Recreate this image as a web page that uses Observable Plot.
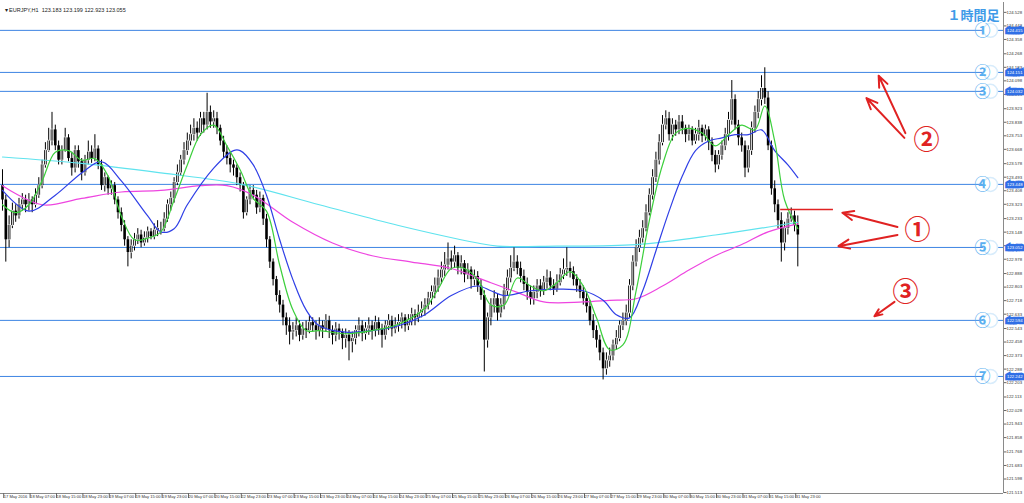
<!DOCTYPE html>
<html><head><meta charset="utf-8">
<script src="https://cdn.jsdelivr.net/npm/d3@7"></script>
<script src="https://cdn.jsdelivr.net/npm/@observablehq/plot@0.6"></script>
<style>html,body{margin:0;padding:0;background:#fff;overflow:hidden}</style>
</head><body><div id="chart"></div>
<script>
const symbolLine = "▾ EURJPY,H1  123.183 123.199 122.923 123.055";
const timeframeLabel = "１時間足";
const firstOpen = 123.44;
const close = [
123.35,123.10,123.19,123.28,123.25,123.32,123.35,123.32,
123.35,123.32,123.38,123.44,123.57,123.66,123.72,123.79,
123.69,123.60,123.66,123.74,123.61,123.55,123.66,123.59,
123.52,123.60,123.65,123.61,123.67,123.57,123.44,123.49,
123.42,123.44,123.35,123.27,123.19,123.10,123.02,123.06,
123.10,123.13,123.08,123.11,123.15,123.12,123.16,123.17,
123.17,123.23,123.32,123.36,123.46,123.52,123.60,123.66,
123.72,123.76,123.80,123.77,123.86,123.82,123.90,123.84,
123.86,123.80,123.72,123.65,123.61,123.57,123.55,123.49,
123.44,123.27,123.35,123.41,123.38,123.30,123.36,123.23,
123.10,122.96,122.85,122.75,122.69,122.61,122.56,122.52,
122.53,122.56,122.50,122.54,122.53,122.58,122.56,122.53,
122.56,122.54,122.59,122.53,122.50,122.54,122.52,122.48,
122.50,122.46,122.48,122.53,122.56,122.51,122.54,122.56,
122.53,122.58,122.54,122.50,122.56,122.59,122.54,122.56,
122.58,122.61,122.56,122.59,122.63,122.61,122.64,122.66,
122.69,122.73,122.77,122.81,122.86,122.91,122.94,122.98,
122.96,123.00,122.92,122.95,122.88,122.91,122.85,122.87,
122.81,122.75,122.47,122.61,122.69,122.73,122.64,122.69,
122.78,122.86,122.92,122.96,122.92,122.87,122.82,122.77,
122.73,122.77,122.81,122.78,122.83,122.86,122.81,122.79,
122.83,122.88,122.91,122.92,122.90,122.85,122.81,122.77,
122.73,122.68,122.59,122.53,122.47,122.39,122.29,122.34,
122.37,122.44,122.48,122.56,122.59,122.64,122.81,122.96,
123.05,123.11,123.17,123.27,123.38,123.49,123.60,123.71,
123.82,123.86,123.76,123.82,123.79,123.84,123.80,123.76,
123.79,123.72,123.76,123.80,123.75,123.79,123.71,123.63,
123.57,123.63,123.69,123.76,123.85,123.98,123.82,123.74,
123.69,123.55,123.66,123.80,123.90,123.98,124.05,123.99,
123.69,123.42,123.32,123.22,123.08,123.17,123.23,123.25,123.19,123.13];
const high = [
123.54,123.38,123.25,123.33,123.32,123.36,123.39,123.38,
123.39,123.37,123.42,123.49,123.60,123.71,123.80,123.90,
123.82,123.72,123.69,123.80,123.76,123.65,123.69,123.69,
123.61,123.63,123.72,123.69,123.76,123.69,123.60,123.52,
123.50,123.47,123.46,123.37,123.30,123.22,123.12,123.10,
123.14,123.17,123.16,123.15,123.18,123.17,123.20,123.22,
123.21,123.27,123.35,123.40,123.49,123.57,123.63,123.71,
123.77,123.82,123.86,123.84,123.90,123.90,124.02,123.94,
123.91,123.90,123.82,123.75,123.69,123.65,123.60,123.57,
123.52,123.46,123.37,123.44,123.44,123.41,123.40,123.38,
123.26,123.12,122.98,122.87,122.78,122.72,122.64,122.61,
122.58,122.61,122.59,122.58,122.59,122.62,122.61,122.59,
122.61,122.59,122.63,122.62,122.56,122.58,122.57,122.54,
122.54,122.53,122.52,122.56,122.61,122.59,122.58,122.61,
122.59,122.62,122.61,122.57,122.59,122.63,122.62,122.61,
122.63,122.64,122.63,122.63,122.67,122.66,122.69,122.71,
122.73,122.77,122.81,122.86,122.91,122.96,123.02,123.08,
123.03,123.06,123.02,123.00,122.97,122.95,122.93,122.91,
122.90,122.85,122.78,122.64,122.73,122.78,122.76,122.73,
122.82,122.91,123.00,123.05,123.00,122.96,122.91,122.86,
122.81,122.81,122.85,122.85,122.87,122.91,122.90,122.85,
122.88,122.92,122.98,123.05,122.96,122.93,122.88,122.85,
122.81,122.77,122.72,122.63,122.56,122.50,122.42,122.39,
122.42,122.47,122.53,122.59,122.64,122.69,122.85,123.00,
123.10,123.16,123.22,123.32,123.42,123.54,123.65,123.76,
123.88,123.91,123.90,123.86,123.85,123.88,123.88,123.82,
123.82,123.81,123.80,123.85,123.82,123.82,123.81,123.74,
123.66,123.66,123.72,123.80,123.90,124.10,124.01,123.85,
123.77,123.72,123.69,123.84,123.94,124.03,124.13,124.18,
124.03,123.72,123.47,123.35,123.27,123.21,123.27,123.30,123.28,123.25];
const low = [
123.28,122.96,123.05,123.17,123.21,123.23,123.28,123.27,
123.28,123.27,123.30,123.36,123.42,123.55,123.65,123.69,
123.66,123.57,123.57,123.65,123.59,123.50,123.52,123.55,
123.47,123.50,123.57,123.58,123.59,123.54,123.41,123.40,
123.38,123.38,123.32,123.23,123.15,123.06,122.93,122.98,
123.03,123.07,123.05,123.06,123.08,123.10,123.10,123.12,
123.13,123.15,123.21,123.28,123.33,123.44,123.50,123.57,
123.63,123.69,123.72,123.72,123.75,123.77,123.79,123.80,
123.80,123.76,123.69,123.61,123.57,123.52,123.50,123.44,
123.40,123.23,123.25,123.32,123.35,123.26,123.27,123.19,
123.05,122.92,122.81,122.71,122.64,122.56,122.50,122.44,
122.47,122.49,122.46,122.47,122.48,122.51,122.52,122.47,
122.49,122.48,122.52,122.48,122.44,122.46,122.47,122.41,
122.42,122.34,122.39,122.44,122.49,122.46,122.47,122.50,
122.47,122.49,122.50,122.42,122.47,122.53,122.49,122.51,
122.52,122.54,122.52,122.53,122.56,122.56,122.58,122.61,
122.62,122.66,122.69,122.73,122.77,122.82,122.87,122.91,
122.91,122.92,122.88,122.88,122.83,122.85,122.79,122.81,
122.77,122.72,122.27,122.42,122.56,122.64,122.59,122.61,
122.66,122.75,122.83,122.90,122.88,122.83,122.78,122.72,
122.69,122.69,122.73,122.74,122.75,122.79,122.78,122.75,
122.77,122.81,122.85,122.87,122.86,122.81,122.77,122.73,
122.69,122.64,122.56,122.48,122.42,122.34,122.22,122.25,
122.30,122.34,122.41,122.46,122.53,122.56,122.61,122.78,
122.93,123.02,123.08,123.15,123.25,123.35,123.46,123.57,
123.69,123.79,123.72,123.72,123.75,123.76,123.76,123.71,
123.72,123.69,123.70,123.72,123.71,123.72,123.66,123.59,
123.52,123.54,123.60,123.66,123.72,123.82,123.79,123.69,
123.65,123.49,123.52,123.63,123.77,123.86,123.94,123.95,
123.66,123.38,123.27,123.17,122.96,123.03,123.13,123.21,123.15,122.93];

// moving averages: [bar index, value]
const maGreen = [[0,123.32],[4,123.27],[8,123.32],[12,123.47],[16,123.65],[20,123.66],[24,123.60],[28,123.61],[32,123.50],[36,123.25],[40,123.10],[44,123.11],[48,123.15],[52,123.35],[56,123.57],[60,123.76],[64,123.82],[68,123.69],[72,123.54],[76,123.36],[80,123.28],[84,122.94],[88,122.66],[92,122.53],[96,122.53],[104,122.51],[112,122.53],[120,122.57],[128,122.67],[132,122.79],[136,122.92],[140,122.92],[144,122.85],[148,122.69],[152,122.69],[156,122.86],[160,122.81],[164,122.78],[168,122.83],[172,122.90],[176,122.81],[180,122.61],[184,122.41],[188,122.44],[192,122.78],[196,123.22],[200,123.57],[204,123.77],[208,123.80],[212,123.77],[216,123.69],[220,123.76],[224,123.82],[228,123.79],[231,123.94],[234,123.72],[237,123.35],[241,123.17]];
const maBlue = [[0,123.41],[8,123.28],[16,123.38],[24,123.52],[30,123.59],[36,123.47],[44,123.25],[48,123.15],[52,123.17],[56,123.32],[64,123.55],[70,123.66],[72,123.66],[76,123.57],[80,123.38],[84,123.10],[88,122.85],[92,122.66],[96,122.56],[104,122.52],[112,122.53],[120,122.56],[128,122.63],[136,122.75],[144,122.81],[148,122.78],[152,122.75],[160,122.78],[168,122.79],[176,122.78],[182,122.72],[186,122.63],[190,122.61],[194,122.78],[198,123.03],[202,123.28],[206,123.50],[210,123.66],[214,123.72],[218,123.74],[222,123.76],[226,123.76],[230,123.79],[234,123.66],[238,123.57],[241,123.49]];
const maMagenta = [[0,123.44],[12,123.32],[24,123.36],[36,123.40],[48,123.41],[60,123.44],[68,123.44],[76,123.38],[88,123.21],[100,123.08],[112,123.00],[124,122.96],[136,122.92],[148,122.83],[156,122.77],[164,122.71],[176,122.71],[184,122.72],[192,122.73],[200,122.81],[208,122.91],[216,123.00],[224,123.07],[232,123.15],[241,123.20]];
const maCyan = [[0,123.62],[24,123.58],[48,123.52],[72,123.45],[96,123.32],[120,123.19],[144,123.08],[150,123.06],[168,123.06],[192,123.07],[216,123.13],[241,123.21]];

const timeLabels = ["17 May 2016","18 May 07:00","18 May 15:00","18 May 23:00","19 May 07:00","19 May 15:00","19 May 23:00","20 May 07:00","20 May 15:00","22 May 23:00","23 May 07:00","23 May 15:00","23 May 23:00","24 May 07:00","24 May 15:00","24 May 23:00","25 May 07:00","25 May 15:00","25 May 23:00","26 May 07:00","26 May 15:00","26 May 23:00","27 May 07:00","27 May 15:00","29 May 23:00","30 May 07:00","30 May 15:00","30 May 23:00","31 May 07:00","31 May 15:00","31 May 23:00"];
const barsPerLabel = 8;
const priceTicks = [124.528,124.443,124.358,124.268,124.183,124.098,124.013,123.923,123.838,123.753,123.668,123.578,123.493,123.408,123.323,123.233,123.148,123.063,122.978,122.888,122.803,122.718,122.633,122.543,122.458,122.373,122.288,122.203,122.113,122.028,121.943,121.858,121.768,121.683,121.598,121.513];

const levels = [124.415,124.151,124.032,123.448,123.052,122.594,122.242];
const levelMarks = ["①","②","③","④","⑤","⑥","⑦"];

// red annotations (bar index, price)
const redSegment = [{x1:235.8, x2:251.8, y:123.29}];
const redArrows = [
  {x1:273.6, y1:123.77, x2:265.5, y2:124.13},
  {x1:273.3, y1:123.74, x2:261.8, y2:123.99},
  {x1:271.2, y1:123.18, x2:254.5, y2:123.27},
  {x1:271.2, y1:123.13, x2:253.3, y2:123.06},
  {x1:270.3, y1:122.71, x2:264.2, y2:122.62}
];
const redLabels = [
  {x:280.0, y:123.72, t:"②"},
  {x:277.3, y:123.16, t:"①"},
  {x:273.6, y:122.77, t:"③"}
];

const xDomain = [-0.606, 303.33];
const yDomain = [121.507, 124.590];

const candles = close.map((c, i) => ({i, open: i ? close[i-1] : firstOpen, close: c, high: high[i], low: low[i]}));
const bulls = candles.filter(d => d.close > d.open);
const toPts = arr => arr.map(([i, v]) => ({i, v}));
const tickIdx = timeLabels.map((_, k) => k * barsPerLabel);
const small = "'Liberation Sans', Arial, sans-serif";

const chart = Plot.plot({
  width: 1024, height: 503,
  marginTop: 2, marginRight: 21, marginBottom: 10, marginLeft: 0,
  x: {domain: xDomain, axis: null},
  y: {domain: yDomain, axis: null},
  style: {fontFamily: small, background: "#fff", overflow: "visible"},
  marks: [
    Plot.ruleY(levels, {stroke: "#3d84e3", strokeWidth: 1}),
    Plot.ruleX(candles, {x: "i", y1: "low", y2: "high", stroke: "#000", strokeWidth: 1}),
    Plot.ruleX(candles, {x: "i", y1: "open", y2: "close", stroke: "#000", strokeWidth: 2.6}),
    Plot.ruleX(bulls, {x: "i", y1: "open", y2: "close", stroke: "#fff", strokeWidth: 0.9, insetTop: 0.8, insetBottom: 0.8}),
    Plot.line(toPts(maCyan), {x: "i", y: "v", stroke: "#5fe3ee", strokeWidth: 1.2, curve: "catmull-rom"}),
    Plot.line(toPts(maMagenta), {x: "i", y: "v", stroke: "#ee45e0", strokeWidth: 1.2, curve: "catmull-rom"}),
    Plot.line(toPts(maBlue), {x: "i", y: "v", stroke: "#2f3fe6", strokeWidth: 1.2, curve: "catmull-rom"}),
    Plot.line(toPts(maGreen), {x: "i", y: "v", stroke: "#3ccf3c", strokeWidth: 1.2, curve: "catmull-rom"}),
    Plot.ruleY([yDomain[0]], {stroke: "#8a8a8a"}),
    Plot.ruleX([xDomain[1]], {stroke: "#8a8a8a"}),
    Plot.axisX({ticks: tickIdx, tickFormat: d => timeLabels[d / barsPerLabel], anchor: "bottom", tickSize: 5, tickPadding: -3, textAnchor: "start", dx: 1.2, fontSize: 4.1, fill: "#333", stroke: "#666"}),
    Plot.axisY({ticks: priceTicks, tickFormat: d => d.toFixed(3), anchor: "right", tickSize: 2.5, tickPadding: 0.5, textAnchor: "start", fontSize: 4.3, fill: "#333", stroke: "#666"}),
    Plot.text(levels, {y: d => d, text: d => d.toFixed(3), frameAnchor: "right", dx: 3.5, textAnchor: "start", fontSize: 4.3, fill: "#fff", stroke: "#2f6fe6", strokeWidth: 4.5, strokeLinejoin: "miter", paintOrder: "stroke"}),
    Plot.dot(levels, {y: d => d, frameAnchor: "right", dx: -13, r: 7, fill: "#fff", stroke: "#d8ecfb", strokeWidth: 1.5}),
    Plot.text(levels, {y: d => d, text: (d, i) => levelMarks[i], frameAnchor: "right", dx: -13, dy: 0.5, fontSize: 16, fontWeight: "bold", fontFamily: "'Noto Sans CJK JP'", fill: "#5aaff0"}),
    Plot.ruleY(redSegment, {x1: "x1", x2: "x2", y: "y", stroke: "#e02222", strokeWidth: 1.6}),
    Plot.arrow(redArrows, {x1: "x1", y1: "y1", x2: "x2", y2: "y2", stroke: "#e02222", strokeWidth: 2, headLength: 9, headAngle: 45}),
    Plot.text(redLabels, {x: "x", y: "y", text: "t", fontSize: 26, fontFamily: "'Noto Sans CJK JP'", fontWeight: "bold", fill: "#e02222"}),
    Plot.text([timeframeLabel], {frameAnchor: "top-right", dx: -4, dy: 8, textAnchor: "end", fontSize: 13, fontWeight: "bold", fontFamily: "'Noto Sans CJK JP'", fill: "#3f9be8", stroke: "#fff", strokeWidth: 2, paintOrder: "stroke"}),
    Plot.text([symbolLine], {frameAnchor: "top-left", dx: 4, dy: 6, textAnchor: "start", fontSize: 5.5, fill: "#222"})
  ]
});
document.getElementById("chart").appendChild(chart);
</script>
</body></html>
